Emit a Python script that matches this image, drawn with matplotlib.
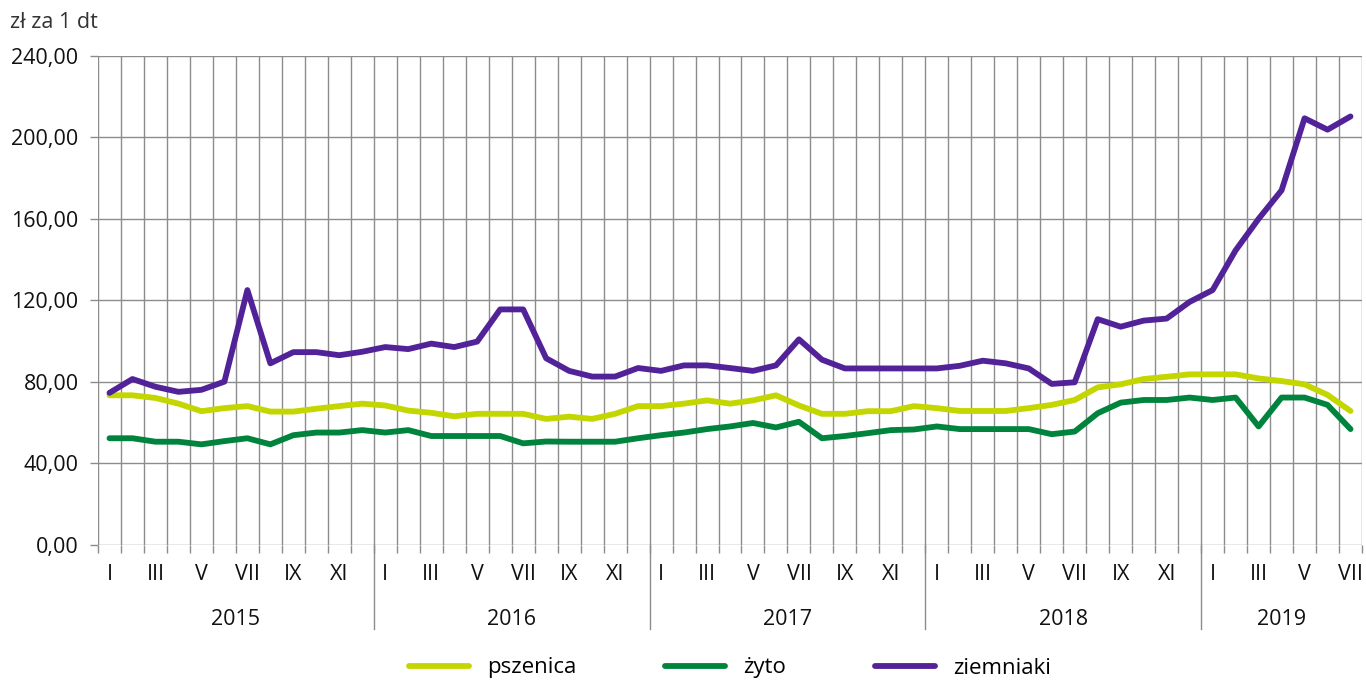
import numpy as np
import matplotlib
matplotlib.use("Agg")
import matplotlib.pyplot as plt
from matplotlib.lines import Line2D

plt.rcParams['font.family'] = ['Open Sans', 'DejaVu Sans']

# miesięczne ceny, I 2015 - VII 2019 (zł za 1 dt)
pszenica = [73.3, 73.3, 72.0, 69.2, 65.5, 67.0, 68.0, 65.3, 65.3, 66.7, 68.0, 69.2,
            68.3, 65.8, 64.7, 63.0, 64.2, 64.2, 64.2, 61.7, 62.8, 61.7, 64.2, 68.0,
            68.0, 69.2, 70.8, 69.2, 70.8, 73.3, 68.3, 64.2, 64.2, 65.5, 65.5, 68.0,
            67.0, 65.6, 65.6, 65.6, 67.0, 68.6, 71.0, 77.2, 78.7, 81.3, 82.4, 83.6,
            83.6, 83.6, 81.6, 80.3, 78.7, 73.5, 65.6]
zyto = [52.2, 52.2, 50.5, 50.5, 49.2, 50.8, 52.2, 49.2, 53.7, 55.0, 55.0, 56.2,
        55.0, 56.2, 53.3, 53.3, 53.3, 53.3, 49.7, 50.6, 50.5, 50.5, 50.5, 52.2,
        53.7, 55.0, 56.7, 58.0, 59.7, 57.5, 60.3, 52.2, 53.3, 54.7, 56.2, 56.5,
        58.0, 56.7, 56.7, 56.7, 56.7, 54.2, 55.5, 64.5, 69.7, 71.0, 71.0, 72.2,
        71.0, 72.2, 58.0, 72.2, 72.2, 68.6, 56.7]
ziemniaki = [74.5, 81.3, 77.5, 75.0, 76.0, 80.0, 125.0, 89.0, 94.5, 94.5, 93.0, 94.7,
             97.0, 96.0, 98.7, 97.0, 99.7, 115.5, 115.5, 91.5, 85.3, 82.5, 82.5, 86.7,
             85.3, 88.0, 88.0, 86.7, 85.3, 88.0, 100.8, 90.8, 86.5, 86.5, 86.5, 86.5,
             86.5, 87.8, 90.3, 89.0, 86.5, 78.9, 79.7, 110.7, 107.0, 110.0, 111.0, 119.2,
             125.0, 144.5, 160.0, 174.0, 209.4, 203.8, 210.3]

miesiace = ['I', 'III', 'V', 'VII', 'IX', 'XI']
lata = ['2015', '2016', '2017', '2018', '2019']

n = len(pszenica)
x = np.arange(n) + 0.5

fig = plt.figure(figsize=(13.66, 6.82), dpi=100)
ax = fig.add_axes([98 / 1366, 1 - 544.5 / 682, 1264 / 1366, 488.5 / 682])

kolor_siatki = '#8c8c8c'
ax.plot(x, pszenica, color='#c4d600', lw=4.2, label='pszenica', solid_capstyle='round')
ax.plot(x, zyto, color='#00843d', lw=4.2, label='żyto', solid_capstyle='round')
ax.plot(x, ziemniaki, color='#522398', lw=4.2, label='ziemniaki', solid_capstyle='round')

ax.set_xlim(0, n)
ax.set_ylim(0, 240)
ax.set_yticks(np.arange(0, 241, 40))
ax.set_yticklabels([f'{v:.2f}'.replace('.', ',') for v in range(0, 241, 40)], fontsize=15.5)
ax.tick_params(axis='y', length=6, width=1, color=kolor_siatki, pad=8, labelcolor='#111111')

# siatka pionowa co miesiąc
ax.set_xticks(np.arange(0, n + 1), minor=True)
ax.tick_params(axis='x', which='minor', length=6, width=1, color=kolor_siatki)
pos = [i + 0.5 for i in range(0, n, 2)]
ax.set_xticks(pos)
ax.set_xticklabels([miesiace[(i % 12) // 2] for i in range(0, n, 2)], fontsize=15.5)
ax.tick_params(axis='x', which='major', length=0, pad=14, labelcolor='#111111')

ax.grid(True, axis='y', color=kolor_siatki, lw=1)
ax.grid(True, axis='x', which='minor', color=kolor_siatki, lw=1)
ax.set_axisbelow(True)
for s in ax.spines.values():
    s.set_visible(False)

# lata pod osią
trans = ax.get_xaxis_transform()
for k, rok in enumerate(lata):
    start = 12 * k
    koniec = min(12 * (k + 1), n)
    ax.text((start + koniec) / 2, -75 / 488.5, rok, transform=trans,
            ha='center', va='center', fontsize=15.5, color='#111111')
    if k > 0:
        ax.add_line(Line2D([start, start], [0, -84 / 488.5], transform=trans,
                           color=kolor_siatki, lw=1, clip_on=False))

fig.text(10 / 1366, 1 - 22 / 682, 'zł za 1 dt', fontsize=15.5, color='#333333',
         ha='left', va='center')

fig.legend(loc='center', bbox_to_anchor=(730 / 1366, 1 - 668 / 682), ncol=3,
           frameon=False, fontsize=16, handlelength=2.7, columnspacing=4.0,
           handletextpad=0.8)

fig.savefig('out.png', dpi=100)
